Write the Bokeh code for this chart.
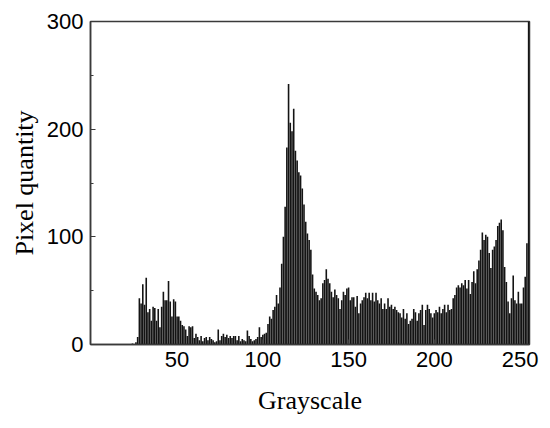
from bokeh.plotting import figure
from bokeh.models import FixedTicker, SingleIntervalTicker, ColumnDataSource, Range1d
from bokeh.embed import file_html
from bokeh.resources import INLINE

# Grayscale histogram values (pixel counts per gray level 0..255)
zeros_low = [0] * 24
vals_24_110 = [1, 0, 2, 7, 43, 38, 56, 37, 62, 30, 33, 22, 35, 34, 22, 33, 16, 35, 49, 41,
               41, 59, 40, 26, 42, 40, 26, 26, 22, 18, 17, 14, 8, 17, 16, 17, 6, 10, 7, 4,
               8, 3, 6, 7, 4, 7, 5, 4, 2, 3, 14, 4, 8, 10, 7, 9, 6, 8, 6, 8,
               8, 4, 8, 3, 5, 4, 3, 13, 8, 5, 3, 4, 5, 7, 16, 7, 9, 10, 11, 19,
               26, 24, 32, 35, 46, 38, 53]
vals_111_129 = [75, 100, 128, 183, 242, 206, 198, 219, 180, 171, 160, 157, 145, 130, 114,
                103, 97, 88, 65]
vals_130_255 = [52, 49, 46, 41, 43, 57, 60, 70, 61, 57, 49, 44, 51, 46, 43, 33, 41, 49, 46, 52,
                53, 41, 44, 44, 35, 45, 29, 38, 41, 44, 48, 43, 48, 41, 48, 40, 48, 41, 38, 43,
                33, 38, 33, 43, 35, 37, 33, 35, 32, 30, 29, 25, 33, 24, 29, 19, 22, 24, 33, 30,
                22, 29, 32, 37, 18, 32, 37, 33, 29, 25, 29, 32, 30, 35, 29, 33, 37, 30, 37, 32,
                33, 43, 46, 53, 55, 53, 57, 55, 60, 52, 60, 47, 58, 68, 57, 70, 78, 88, 104, 97,
                102, 100, 85, 71, 88, 91, 97, 110, 113, 116, 106, 72, 58, 40, 29, 43, 64, 41, 38, 49,
                38, 38, 53, 63, 94, 340]
counts = zeros_low + vals_24_110 + vals_111_129 + vals_130_255
gray = list(range(len(counts)))

x_ticks = [50, 100, 150, 200, 250]
y_ticks = [0, 100, 200, 300]
x_label = "Grayscale"
y_label = "Pixel quantity"

src = ColumnDataSource(dict(x=gray, top=counts))

p = figure(width=542, height=420, output_backend="svg", toolbar_location=None,
           x_range=Range1d(-0.5, 255.5), y_range=Range1d(0, 300),
           min_border_left=90, min_border_right=13, min_border_top=21, min_border_bottom=76)
p.vbar(x="x", top="top", bottom=0, width=0.93, source=src,
       fill_color="#141414", line_color=None)

p.grid.visible = False
p.outline_line_color = "#3a3a3a"
p.outline_line_width = 1.5
p.background_fill_color = "white"
p.border_fill_color = "white"

p.xaxis.ticker = FixedTicker(ticks=x_ticks)
p.yaxis.ticker = SingleIntervalTicker(interval=100, num_minor_ticks=2)

for ax in (p.xaxis, p.yaxis):
    ax.axis_line_color = "#3a3a3a"
    ax.axis_line_width = 1.5
    ax.major_tick_in = 5
    ax.major_tick_out = 0
    ax.major_tick_line_color = "#3a3a3a"
    ax.major_tick_line_width = 1.2
    ax.major_label_text_font = "Liberation Sans"
    ax.major_label_text_font_size = "22px"
    ax.major_label_text_color = "black"
    ax.axis_label_text_font = "Liberation Serif"
    ax.axis_label_text_font_size = "26px"
    ax.axis_label_text_font_style = "normal"
    ax.axis_label_text_color = "black"

p.yaxis.minor_tick_in = 3
p.yaxis.minor_tick_out = 0
p.yaxis.minor_tick_line_color = "#3a3a3a"
p.xaxis.minor_tick_line_color = None
p.xaxis.major_label_standoff = 7
p.yaxis.major_label_standoff = 7
p.xaxis.axis_label = x_label
p.yaxis.axis_label = y_label
p.xaxis.axis_label_standoff = 16
p.yaxis.axis_label_standoff = 5

open("out.html", "w").write(file_html(p, INLINE))
